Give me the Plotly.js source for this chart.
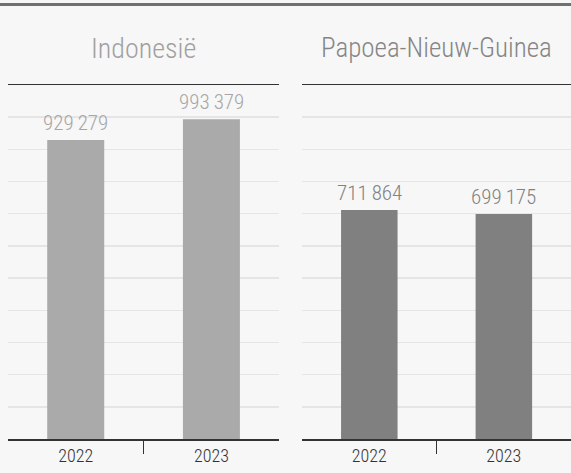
<!DOCTYPE html>
<html>
<head>
<meta charset="utf-8">
<script src="https://cdn.plot.ly/plotly-3.0.1.min.js"></script>
<style>
  html, body { margin: 0; padding: 0; background: #f7f7f7; }
  #chart { width: 571px; height: 473px; position: relative; }
  #topline { position: absolute; left: 0; top: 3px; width: 571px; height: 3px; background: #707070; z-index: 5; }
</style>
</head>
<body>
<div id="chart"><div id="topline"></div></div>
<script>
const years = ['2022', '2023'];
const panelTitles = ['Indonesië', 'Papoea-Nieuw-Guinea'];
const indonesia = [929279, 993379];
const png = [711864, 699175];

const FONT = '"Roboto Condensed", "DejaVu Sans Condensed", sans-serif';

function fmt(v) {
  return String(v).replace(/\B(?=(\d{3})+(?!\d))/g, '\u2009');
}

const traces = [
  {
    type: 'bar', x: years, y: indonesia, xaxis: 'x', yaxis: 'y',
    marker: { color: '#aaaaaa' }, width: 0.42, hoverinfo: 'none'
  },
  {
    type: 'bar', x: years, y: png, xaxis: 'x2', yaxis: 'y2',
    marker: { color: '#808080' }, width: 0.42, hoverinfo: 'none'
  }
];

// category axes: annotation x is the category's serial index
function valueLabels(vals, xa, ya, color) {
  return vals.map((v, i) => ({
    text: fmt(v), x: years.indexOf(years[i]), y: v, xref: xa, yref: ya,
    xanchor: 'center', yanchor: 'bottom', yshift: 3, showarrow: false,
    font: { family: FONT, size: 21, color: color, weight: 300 }
  }));
}

const xbase = {
  type: 'category', range: [-0.499, 1.499], fixedrange: true,
  showline: true, mirror: true, linecolor: '#333333', linewidth: 1.5,
  ticks: 'outside', tickson: 'boundaries', ticklen: 13, tickcolor: '#333333', tickwidth: 1,
  showgrid: false,
  tickfont: { family: FONT, size: 18, color: '#333333', weight: 300 }
};
const ybase = {
  range: [0, 1100000], dtick: 100000, tick0: 0, showticklabels: false,
  showgrid: true, gridcolor: '#e5e5e5', gridwidth: 1.5, zeroline: false, ticks: '', fixedrange: true
};

const layout = {
  width: 571, height: 473,
  margin: { l: 8, r: 0, t: 85, b: 34 },
  paper_bgcolor: '#f7f7f7', plot_bgcolor: '#f7f7f7',
  showlegend: false,
  xaxis: Object.assign({}, xbase, { domain: [0, 0.4816], anchor: 'y' }),
  xaxis2: Object.assign({}, xbase, { domain: [0.5225, 1], anchor: 'y2' }),
  yaxis: Object.assign({}, ybase, { anchor: 'x' }),
  yaxis2: Object.assign({}, ybase, { anchor: 'x2', matches: 'y' }),
  annotations: [
    { text: panelTitles[0], xref: 'x domain', yref: 'paper', x: 0.5, y: 1, yshift: 37, yanchor: 'middle', xanchor: 'center',
      showarrow: false, font: { family: FONT, size: 28, color: '#a0a0a0', weight: 300 } },
    { text: panelTitles[1], xref: 'x2 domain', yref: 'paper', x: 0.5, y: 1, yshift: 37, yanchor: 'middle', xanchor: 'center',
      showarrow: false, font: { family: FONT, size: 27, color: '#858585', weight: 300 } }
  ].concat(valueLabels(indonesia, 'x', 'y', '#a6a6a6'), valueLabels(png, 'x2', 'y2', '#828282'))
};

Plotly.newPlot('chart', traces, layout, { displayModeBar: false, staticPlot: true });
</script>
</body>
</html>
